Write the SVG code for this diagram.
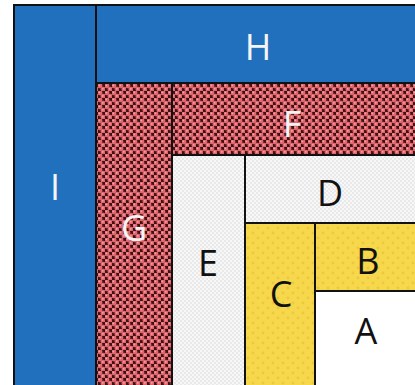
<svg xmlns="http://www.w3.org/2000/svg" width="415" height="385" viewBox="0 0 415 385">
<defs>
<pattern id="redDots" width="7" height="7" patternUnits="userSpaceOnUse">
<rect width="7" height="7" fill="#3d1214"/>
<circle cx="1.75" cy="1.75" r="2.6" fill="#e2666e"/>
<circle cx="5.25" cy="5.25" r="2.6" fill="#e2666e"/>
<circle cx="1.3" cy="1.3" r="0.9" fill="#f6a2a8"/>
<circle cx="4.8" cy="4.8" r="0.9" fill="#f6a2a8"/>
</pattern>
<pattern id="lightChk" width="4" height="4" patternUnits="userSpaceOnUse">
<rect width="4" height="4" fill="#f7f7f7"/>
<rect width="2" height="2" fill="#e9e9e9"/>
<rect x="2" y="2" width="2" height="2" fill="#e9e9e9"/>
</pattern>
<pattern id="yelDots" width="10" height="10" patternUnits="userSpaceOnUse">
<rect width="10" height="10" fill="#f7d84c"/>
<circle cx="3" cy="3" r="1.4" fill="#ecc93c"/>
<circle cx="8" cy="8" r="1.4" fill="#ecc93c"/>
</pattern>
<style>
.bd{stroke:#111;stroke-width:2}
.lw{font-family:"Open Sans","Liberation Sans",sans-serif;font-size:36px;fill:#f4f4f4;text-anchor:middle;dominant-baseline:central}
.lb{font-family:"Open Sans","Liberation Sans",sans-serif;font-size:36px;fill:#111;text-anchor:middle;dominant-baseline:central}
</style>
</defs>
<rect width="415" height="385" fill="#ffffff"/>
<g id="I"><rect class="bd" x="14" y="5" width="82" height="382" fill="#2170be"/><text class="lw" x="55" y="186">I</text></g>
<g id="H"><rect class="bd" x="96" y="5" width="321" height="78" fill="#2170be"/><text class="lw" x="258" y="46">H</text></g>
<g id="G"><rect class="bd" x="96" y="83" width="76" height="304" fill="url(#redDots)"/><text class="lw" x="134" y="227">G</text></g>
<g id="F"><rect class="bd" x="172" y="83" width="245" height="72" fill="url(#redDots)"/><text class="lw" x="292" y="123">F</text></g>
<g id="E"><rect class="bd" x="172" y="155" width="73" height="232" fill="url(#lightChk)"/><text class="lb" x="208" y="262">E</text></g>
<g id="D"><rect class="bd" x="245" y="155" width="172" height="68" fill="url(#lightChk)"/><text class="lb" x="330" y="192">D</text></g>
<g id="C"><rect class="bd" x="245" y="223" width="70" height="164" fill="url(#yelDots)"/><text class="lb" x="281" y="293">C</text></g>
<g id="B"><rect class="bd" x="315" y="223" width="102" height="68" fill="url(#yelDots)"/><text class="lb" x="368" y="260">B</text></g>
<g id="A"><rect class="bd" x="315" y="291" width="102" height="96" fill="#ffffff"/><text class="lb" x="366" y="330">A</text></g>
<g id="connectors"/>
</svg>
